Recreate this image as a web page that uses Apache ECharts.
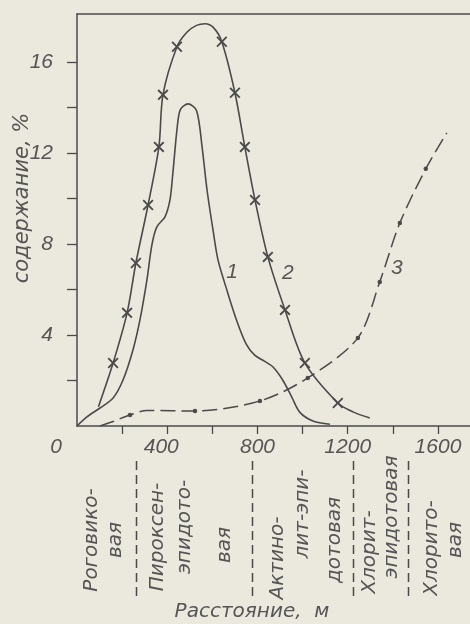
<!DOCTYPE html>
<html><head><meta charset="utf-8">
<script src="https://cdn.jsdelivr.net/npm/echarts@6/dist/echarts.min.js"></script>
<style>html,body{margin:0;padding:0;background:#ebe8dd}#c{width:470px;height:624px}</style>
</head><body><div id="c"></div>
<script>
// ---- data ----
const distanceTicks = [200, 400, 600, 800, 1000, 1200, 1400, 1600];
const distanceLabels = [0, 400, 800, 1200, 1600];
const contentTicks = [2, 4, 6, 8, 10, 12, 14, 16];
const contentLabels = [4, 8, 12, 16];

// curve 1 (solid, no markers)
const curve1 = [[0,0],[44,0.40],[102,0.79],[160,1.23],[204,2.02],[248,3.34],[279,4.66],[310,6.42],[332,7.96],[354,8.75],[390,9.19],[412,9.93],[425,11.12],[443,13.01],[458,13.9],[492,14.15],[530,13.85],[554,12.3],[576,10.4],[603,8.6],[625,7.3],[665,5.95],[709,4.6],[750,3.6],[789,3.1],[830,2.85],[868,2.6],[913,2.0],[953,1.25],[988,0.6],[1046,0.22],[1121,0.08]];
// curve 2 (solid with crosses) : [distance, content, marked]
const curve2 = [[95,0.85,0],[160,2.77,1],[222,4.97,1],[261,7.16,1],[315,9.71,1],[363,12.26,1],[381,14.55,1],[443,16.66,1],[487,17.3,0],[530,17.6,0],[567,17.67,0],[605,17.5,0],[642,16.88,1],[700,14.64,1],[744,12.26,1],[789,9.93,1],[846,7.43,1],[922,5.10,1],[1010,2.77,1],[1156,1.01,1],[1223,0.62,0],[1298,0.35,0]];
// curve 3 (dash-dot with dots) : [distance, content, marked]
const curve3 = [[102,0,0],[160,0.2,0],[235,0.48,1],[310,0.68,0],[523,0.66,1],[811,1.10,1],[1023,2.11,1],[1245,3.87,1],[1342,6.33,1],[1431,8.92,1],[1546,11.30,1],[1639,12.88,0]];

const curveNames = ['1', '2', '3'];
const curveNameAt = [[687, 6.77], [935, 6.73], [1418, 6.95]];

const zoneBounds = [260, 775, 1222, 1467];
const zoneNames = [['Роговико-','вая'],['Пироксен-','эпидото-','вая'],['Актино-','лит-эпи-','дотовая'],['Хлорит-','эпидотовая'],['Хлорито-','вая']];

// ---- layout / style ----
const INK = '#4a4a4a';
const TXT = '#555555';
const NUMFONT = '"Liberation Sans", "DejaVu Sans", sans-serif';
const FONT = '"DejaVu Sans", "Liberation Sans", sans-serif';
const zoneColX = [[92,116],[158,185,225],[278,303,335],[370,392],[432,456]];
const zoneColY = [[540,540],[537,527,545],[558,514,540],[552,517],[548,540]];
const crossPath = 'path://M0,1.2L1.2,0L5,3.8L8.8,0L10,1.2L6.2,5L10,8.8L8.8,10L5,6.2L1.2,10L0,8.8L3.8,5Z';

const chart = echarts.init(document.getElementById('c'), null, {renderer: 'canvas'});

function marked(arr, sym) {
  return arr.map(p => ({value: [p[0], p[1]], symbol: p[2] ? sym : 'none'}));
}

const numStyle = {fontSize: 21, fontStyle: 'italic', fontFamily: NUMFONT, color: TXT};

chart.setOption({
  backgroundColor: '#ebe8dd',
  animation: false,
  grid: {left: 77, top: 14, right: 0, bottom: 198},
  xAxis: [{
    type: 'value', min: 0, max: 1742,
    axisLine: {show: true, lineStyle: {color: INK, width: 1.5}},
    axisTick: {show: true, customValues: distanceTicks, length: 8, lineStyle: {color: INK, width: 1.3}},
    axisLabel: Object.assign({
      customValues: distanceLabels, margin: 11,
      formatter: v => v === 0 ? '{z|0}' : (v === 400 ? '{f|' + v + '}' : '{n|' + v + '}'),
      rich: {z: Object.assign({padding: [0, 42, 0, 0]}, numStyle),
             f: Object.assign({padding: [0, 12, 0, 0]}, numStyle),
             n: Object.assign({padding: [0, 0, 0, 0]}, numStyle)}
    }, numStyle),
    splitLine: {show: false}
  }, {
    type: 'value', min: 0, max: 1742, position: 'top',
    axisLine: {show: true, lineStyle: {color: INK, width: 1.5}},
    axisTick: {show: false}, axisLabel: {show: false}, splitLine: {show: false}
  }],
  yAxis: {
    type: 'value', min: 0, max: 18.1,
    axisLine: {show: true, lineStyle: {color: INK, width: 1.5}},
    axisTick: {show: true, customValues: contentTicks, length: 10, lineStyle: {color: INK, width: 1.3}},
    axisLabel: Object.assign({customValues: contentLabels, margin: 24}, numStyle),
    splitLine: {show: false}
  },
  series: [{
    type: 'line', data: curve1, smooth: 0.3, symbol: 'none',
    lineStyle: {color: INK, width: 1.6}
  }, {
    type: 'line', data: marked(curve2, crossPath), smooth: 0.3, symbolSize: 11,
    itemStyle: {color: INK},
    lineStyle: {color: INK, width: 1.6}
  }, {
    type: 'line', data: marked(curve3, 'circle'), smooth: 0.3, symbolSize: 4.5,
    itemStyle: {color: INK},
    lineStyle: {color: INK, width: 1.5, type: [15, 6]}
  }]
});

function px(x, y) { return chart.convertToPixel({gridIndex: 0}, [x, y]); }

const graphics = [];
// curve numbers
curveNames.forEach((t, i) => {
  const p = px(curveNameAt[i][0], curveNameAt[i][1]);
  graphics.push({type: 'text', x: p[0], y: p[1], style: {text: t, fill: TXT, font: 'italic 21px ' + NUMFONT, align: 'center', verticalAlign: 'middle'}});
});
// zone separators
zoneBounds.forEach(b => {
  const x = Math.round(px(b, 0)[0]) + 0.5;
  graphics.push({type: 'line', shape: {x1: x, y1: 461, x2: x, y2: 596}, style: {stroke: INK, lineWidth: 1.5, lineDash: [9, 5]}});
});
// zone names (vertical)
zoneNames.forEach((cols, i) => {
  cols.forEach((t, j) => {
    graphics.push({type: 'text', x: zoneColX[i][j], y: zoneColY[i][j], rotation: Math.PI / 2,
      style: {text: t, fill: TXT, font: 'italic 20px ' + FONT, align: 'center', verticalAlign: 'middle'}});
  });
});
// axis titles
graphics.push({type: 'text', x: 23, y: 198, rotation: Math.PI / 2,
  style: {text: 'содержание, %', fill: TXT, font: 'italic 21px ' + FONT, align: 'center', verticalAlign: 'middle'}});
graphics.push({type: 'text', x: 252, y: 612,
  style: {text: 'Расстояние,  м', fill: TXT, font: 'italic 20px ' + FONT, align: 'center', verticalAlign: 'middle'}});

chart.setOption({graphic: graphics});
</script>
</body></html>
